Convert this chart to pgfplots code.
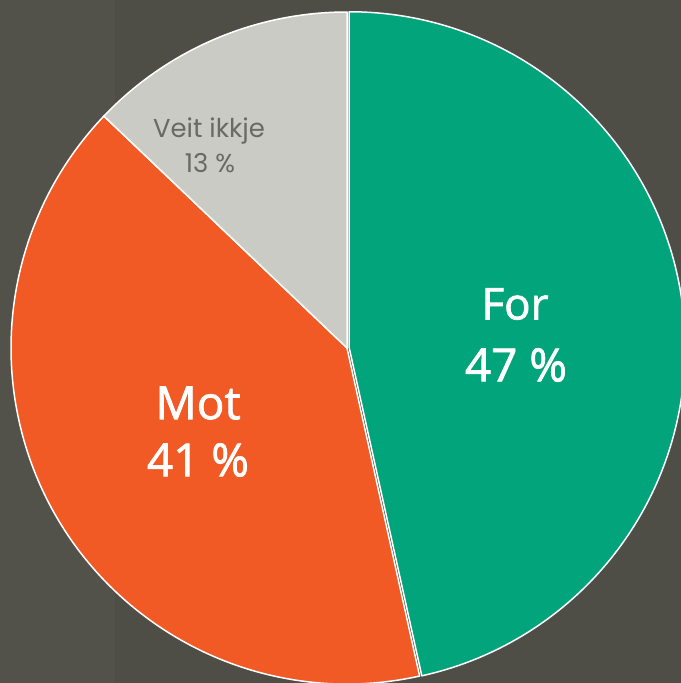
\documentclass[border=0pt]{standalone}
\usepackage{fontspec}
\setmainfont{Open Sans}
\newfontfamily\lblfont{Open Sans}[RawFeature={embolden=1.6}]
\newfontfamily\geofont{Poppins}
\usepackage{pgfplots}
\usepackage{pgfplotstable}
\pgfplotsset{compat=1.18}

\definecolor{bgc}{HTML}{4E4E46}
\definecolor{forc}{HTML}{02A47B}
\definecolor{motc}{HTML}{F15A25}
\definecolor{veitc}{HTML}{CBCBC6}
\definecolor{veittxt}{HTML}{6A6A64}

\pgfplotstableread{
label value
For 47
Mot 41
Veit 13
}\piedata

\begin{document}
\begin{tikzpicture}
\pgfplotstablegetelem{0}{value}\of\piedata \let\vFor\pgfplotsretval
\pgfplotstablegetelem{1}{value}\of\piedata \let\vMot\pgfplotsretval
\pgfplotstablegetelem{2}{value}\of\piedata \let\vVeit\pgfplotsretval
\pgfmathsetmacro\tot{\vFor+\vMot+\vVeit}
\pgfmathsetmacro\aA{90-360*(\vFor/\tot)}
\pgfmathsetmacro\aB{\aA-360*(\vMot/\tot)}
\pgfmathsetmacro\mFor{(90+\aA)/2}
\def\R{336bp}

\useasboundingbox (0,0) rectangle (681bp,-683bp);
\clip (0,0) rectangle (681bp,-683bp);
\fill[bgc] (0,0) rectangle (681bp,-683bp);
\fill[white,opacity=0.025] (0,0) rectangle (115bp,-683bp);

\begin{axis}[scale only axis,width=672bp,height=672bp,
  xmin=-1,xmax=1,ymin=-1,ymax=1,hide axis,
  at={(347bp,-348bp)},anchor=center,clip=false]
\filldraw[fill=motc,draw=white,line width=1.5bp,line join=round]
  (axis cs:0,0) -- ++(\aA:\R) arc[start angle=\aA,end angle=\aB,radius=\R] -- cycle;
\filldraw[fill=veitc,draw=white,line width=1.5bp,line join=round]
  (axis cs:0,0) -- ++(\aB:\R) arc[start angle=\aB,end angle=-270,radius=\R] -- cycle;
\filldraw[fill=forc,draw=white,line width=1.5bp,line join=round,shift={(\mFor:2.2bp)}]
  (axis cs:0,0) -- ++(90:\R) arc[start angle=90,end angle=\aA,radius=\R] -- cycle;
\end{axis}

\node[white,font=\lblfont\fontsize{44}{48}\selectfont] at (515bp,-304bp) {For};
\node[white,font=\lblfont\fontsize{46}{48}\selectfont] at (516bp,-365bp) {47 \%};
\node[white,font=\lblfont\fontsize{46}{48}\selectfont] at (198bp,-403bp) {Mot};
\node[white,font=\lblfont\fontsize{46}{48}\selectfont] at (198bp,-460bp) {41 \%};
\node[veittxt,font=\geofont\fontsize{26}{30}\selectfont] at (209bp,-131bp) {Veit ikkje};
\node[veittxt,font=\geofont\fontsize{26}{30}\selectfont] at (210bp,-163bp) {13 \%};
\end{tikzpicture}
\end{document}
